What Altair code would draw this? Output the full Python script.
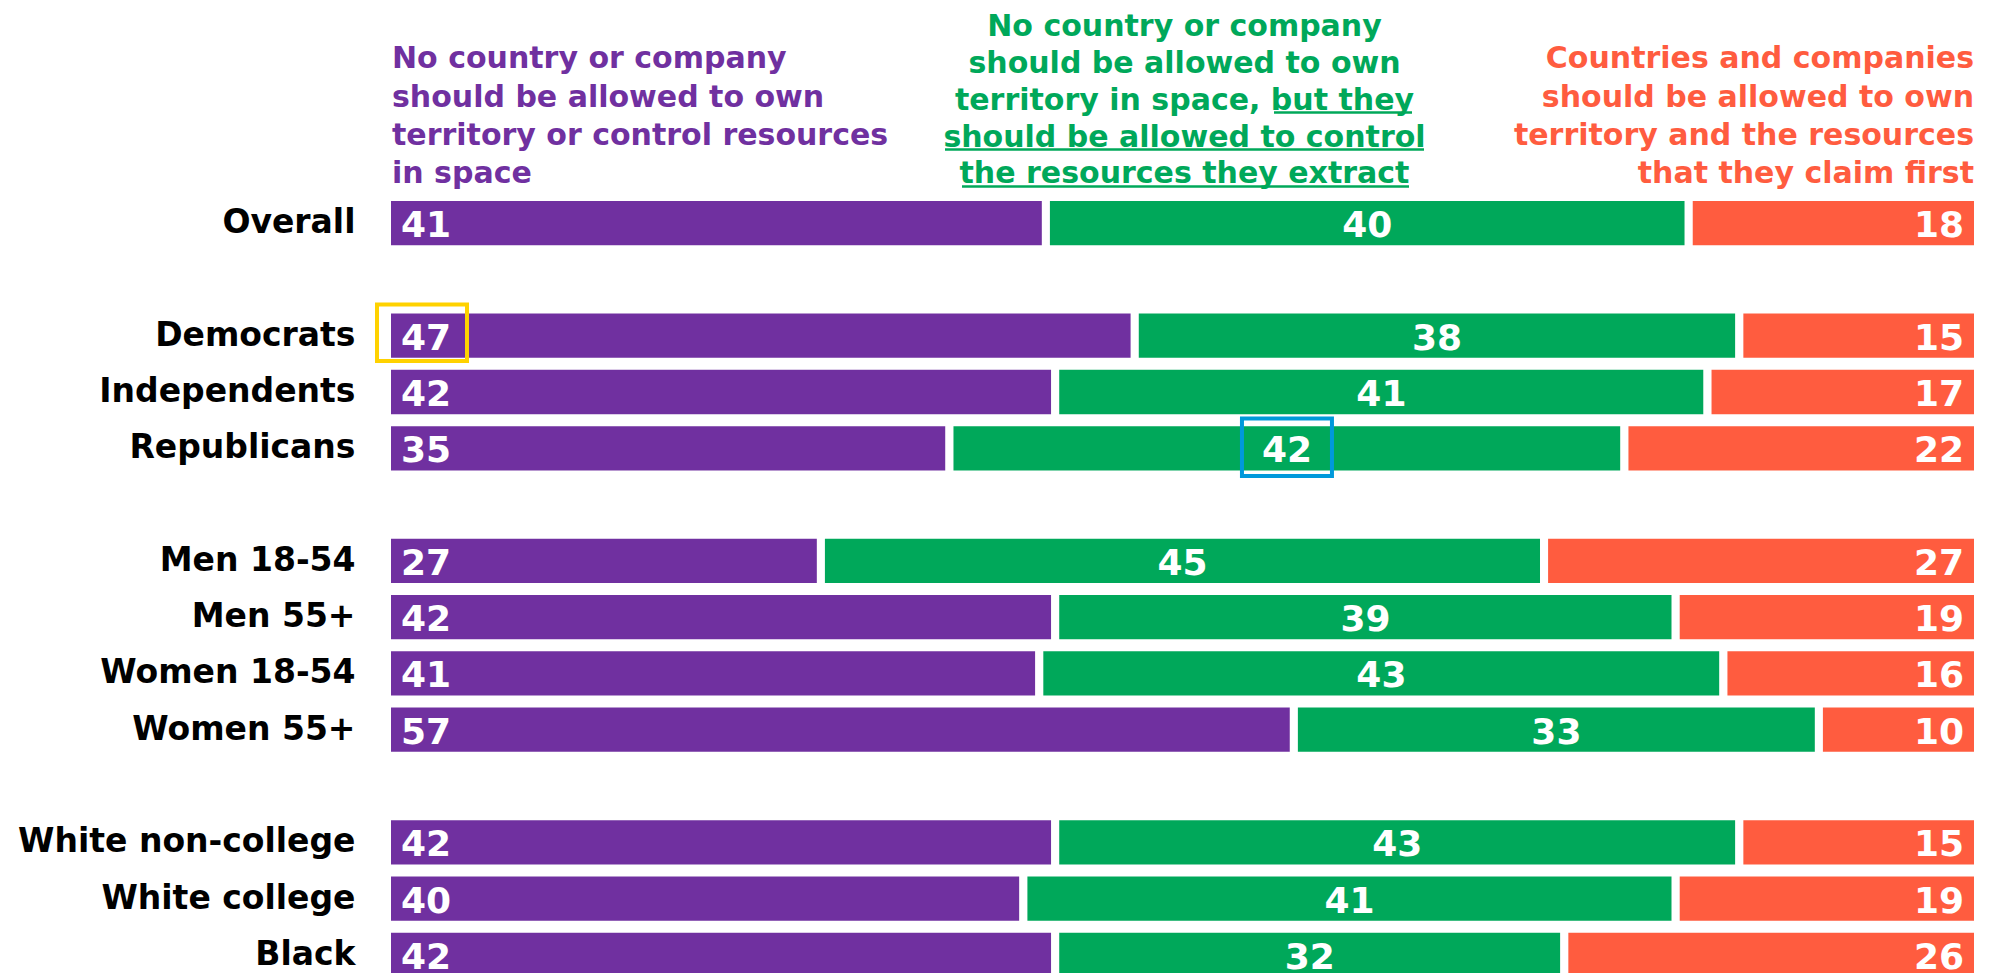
import altair as alt
import pandas as pd

# ---------------- data ----------------
groups = ["Overall", "Democrats", "Independents", "Republicans",
          "Men 18-54", "Men 55+", "Women 18-54", "Women 55+",
          "White non-college", "White college", "Black"]
no_own_no_control = [41, 47, 42, 35, 27, 42, 41, 57, 42, 40, 42]
control_only = [40, 38, 41, 42, 45, 39, 43, 33, 43, 41, 32]
own_and_control = [18, 15, 17, 22, 27, 19, 16, 10, 15, 19, 26]

row_order = ["Overall", " ",
             "Democrats", "Independents", "Republicans", "  ",
             "Men 18-54", "Men 55+", "Women 18-54", "Women 55+", "   ",
             "White non-college", "White college", "Black"]

response_keys = ["none", "control", "own"]
response_colors = ["#7030A0", "#00A85A", "#FF5C3F"]

header_purple = ["No country or company", "should be allowed to own",
                 "territory or control resources", "in space"]
header_green = ["No country or company", "should be allowed to own",
                "territory in space, but they", "should be allowed to control",
                "the resources they extract"]
header_orange = ["Countries and companies", "should be allowed to own",
                 "territory and the resources", "that they claim first"]

rows = []
for i, g in enumerate(groups):
    for k, (key, vals) in enumerate(zip(response_keys,
                                        [no_own_no_control, control_only, own_and_control])):
        rows.append({"group": g, "response": key, "value": vals[i], "order": k})
df = pd.DataFrame(rows)

FONT = "DejaVu Sans"
PURPLE, GREEN, ORANGE = response_colors
GOLD = "#FFD200"
BLUE = "#0099DB"

xs = alt.Scale(domain=[0, 1], nice=False, zero=False)
ys = alt.Scale(domain=row_order, paddingInner=0.071, paddingOuter=0)
Y = alt.Y("group:N", scale=ys, title=None,
          axis=alt.Axis(labelFont=FONT, labelFontWeight="bold", labelFontSize=33,
                        labelColor="black", labelPadding=32, ticks=False, tickSize=0,
                        domain=False, grid=False, labelLimit=500))

base = (alt.Chart(df)
        .transform_joinaggregate(total="sum(value)", groupby=["group"])
        .transform_window(cum="sum(value)", groupby=["group"],
                          sort=[alt.SortField("order")], frame=[None, 0])
        .transform_calculate(start="(datum.cum - datum.value) / datum.total",
                             end="datum.cum / datum.total",
                             mid="(datum.cum - datum.value / 2) / datum.total"))

bars = base.mark_bar(stroke="white", strokeWidth=8).encode(
    x=alt.X("start:Q", scale=xs, axis=None),
    x2="end:Q",
    y=Y,
    color=alt.Color("response:N",
                    scale=alt.Scale(domain=response_keys, range=response_colors),
                    legend=None),
)

num_style = dict(baseline="alphabetic", dy=14, font=FONT, fontWeight="bold",
                 fontSize=36, color="white")
lab_none = base.transform_filter(alt.datum.response == "none").mark_text(
    align="left", dx=14, **num_style).encode(x="start:Q", y="group:N", text="value:Q")
lab_control = base.transform_filter(alt.datum.response == "control").mark_text(
    align="center", **num_style).encode(x="mid:Q", y="group:N", text="value:Q")
lab_own = base.transform_filter(alt.datum.response == "own").mark_text(
    align="right", dx=-14, **num_style).encode(x="end:Q", y="group:N", text="value:Q")

# highlight boxes
box_dem = base.transform_filter(
    (alt.datum.group == "Democrats") & (alt.datum.response == "none")
).mark_bar(fillOpacity=0, stroke=GOLD, strokeWidth=4, size=56.4,
           xOffset=-10, x2Offset=80, yOffset=-3).encode(
    x="start:Q", x2="start:Q", y="group:N")
box_rep = base.transform_filter(
    (alt.datum.group == "Republicans") & (alt.datum.response == "control")
).mark_bar(fillOpacity=0, stroke=BLUE, strokeWidth=4, size=57.6,
           xOffset=-45, x2Offset=45, yOffset=-1).encode(
    x="mid:Q", x2="mid:Q", y="group:N")

one = pd.DataFrame({"k": [0]})
head_style = dict(baseline="alphabetic", font=FONT, fontWeight="bold", fontSize=30)
h_purple = alt.Chart(one).mark_text(align="left", dx=5, color=PURPLE, lineHeight=38.3,
                                    **head_style).encode(
    x=alt.datum(0), y=alt.value(-128.7), text=alt.value(header_purple))
h_green = alt.Chart(one).mark_text(align="center", dx=2, color=GREEN, lineHeight=36.85,
                                   **head_style).encode(
    x=alt.datum(0.5), y=alt.value(-161), text=alt.value(header_green))
h_orange = alt.Chart(one).mark_text(align="right", dx=-4, color=ORANGE, lineHeight=38.3,
                                    **head_style).encode(
    x=alt.datum(1), y=alt.value(-128.7), text=alt.value(header_orange))

ul1 = alt.Chart(one).mark_rule(color=GREEN, strokeWidth=2.5).encode(
    x=alt.value(887), x2=alt.value(1025), y=alt.value(-84.5))
ul2 = alt.Chart(one).mark_rule(color=GREEN, strokeWidth=2.5).encode(
    x=alt.value(558), x2=alt.value(1037), y=alt.value(-47.5))
ul3 = alt.Chart(one).mark_rule(color=GREEN, strokeWidth=2.5).encode(
    x=alt.value(575), x2=alt.value(1022), y=alt.value(-10.5))

chart = alt.layer(
    bars, lab_none, lab_control, lab_own, box_dem, box_rep,
    h_purple, h_green, h_orange, ul1, ul2, ul3
).properties(
    width=1591, height=784,
    padding={"left": 379, "top": 189, "right": 4, "bottom": 0},
    autosize=alt.AutoSizeParams(type="none"),
    background="white",
).configure_view(strokeWidth=0)

chart.save("out.html", embed_options={"renderer": "svg", "actions": False})
